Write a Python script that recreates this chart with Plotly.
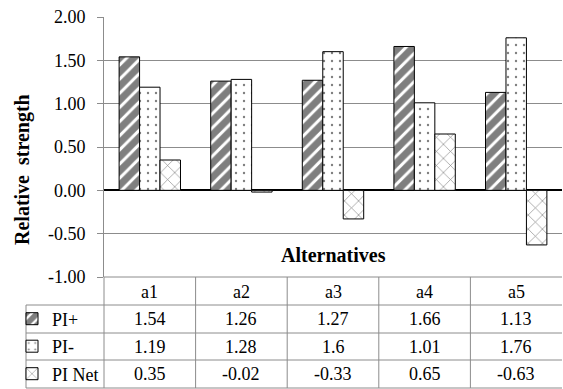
import plotly.graph_objects as go

# ---- data ----
categories = ["a1", "a2", "a3", "a4", "a5"]
pi_plus = [1.54, 1.26, 1.27, 1.66, 1.13]
pi_minus = [1.19, 1.28, 1.6, 1.01, 1.76]
pi_net = [0.35, -0.02, -0.33, 0.65, -0.63]
series_names = ["PI+", "PI-", "PI Net"]
y_ticks = [-1.0, -0.5, 0.0, 0.5, 1.0, 1.5, 2.0]
y_tick_labels = [f"{v:.2f}" for v in y_ticks]

# ---- geometry (pixels) ----
W, H = 563, 389
ML, MR, MT, MB = 104, 1, 17, 112
PW = W - ML - MR
PH = H - MT - MB
FONT = "Liberation Serif, Times New Roman, serif"
GRID = "#8c8c8c"


def py(Y):
    return (H - MB - Y) / PH


def px(X):
    return (X - ML) / PW


row_lines = [305, 333, 360, 388]
row_centers = [291.5, 319, 346.5, 374]
table_left = 26

series_values = [pi_plus, pi_minus, pi_net]
patterns = [
    dict(shape="/", size=10, solidity=0.7, fgcolor="black", bgcolor="white"),
    dict(shape=".", size=8, solidity=0.07, fgcolor="#000", bgcolor="white"),
    dict(shape="x", size=10, solidity=0.12, fgcolor="#000", bgcolor="white"),
]
legend_ids = ["legend", "legend2", "legend3"]

fig = go.Figure()
for name, vals, pat, lid in zip(series_names, series_values, patterns, legend_ids):
    fig.add_trace(go.Bar(
        x=categories, y=vals, name=name,
        marker=dict(color="white", pattern=pat, line=dict(color="black", width=1)),
        legend=lid, showlegend=True,
    ))

shapes = []
line_style = dict(color=GRID, width=1)
for Y in row_lines:
    shapes.append(dict(type="line", xref="paper", yref="paper",
                       x0=px(table_left), x1=1, y0=py(Y), y1=py(Y), line=line_style))
shapes.append(dict(type="line", xref="paper", yref="paper",
                   x0=0, x1=1, y0=0, y1=0, line=line_style))
shapes.append(dict(type="line", xref="paper", yref="paper",
                   x0=px(table_left), x1=px(table_left), y0=py(row_lines[0]), y1=py(row_lines[-1]),
                   line=line_style))
shapes.append(dict(type="line", xref="paper", yref="paper",
                   x0=0, x1=0, y0=0, y1=py(row_lines[-1]), line=line_style))
for i in range(len(categories) - 1):
    shapes.append(dict(type="line", xref="x", yref="paper",
                       x0=i + 0.5, x1=i + 0.5, y0=0, y1=py(row_lines[-1]), line=line_style))

annotations = []
tfont = dict(family=FONT, size=18, color="black")
for c in categories:
    annotations.append(dict(x=c, xref="x", y=py(row_centers[0]), yref="paper",
                            text=c, showarrow=False, font=tfont, yanchor="middle"))
for r, vals in enumerate(series_values):
    yc = py(row_centers[r + 1])
    for c, v in zip(categories, vals):
        annotations.append(dict(x=c, xref="x", y=yc, yref="paper", text=str(v),
                                showarrow=False, font=tfont, yanchor="middle"))

title_font = dict(family=FONT, size=20, color="black")
annotations.append(dict(x=0.5, xref="paper", y=py(255), yref="paper", text="<b>Alternatives</b>",
                        showarrow=False, font=title_font, yanchor="middle"))
annotations.append(dict(x=px(22), xref="paper", y=py(170), yref="paper",
                        text="<b>Relative  strength</b>", textangle=-90,
                        showarrow=False, font=title_font,
                        xanchor="center", yanchor="middle"))

legend_common = dict(xref="paper", yref="paper", xanchor="left", yanchor="middle",
                     bgcolor="rgba(0,0,0,0)", borderwidth=0, itemwidth=30,
                     font=dict(family=FONT, size=18, color="black"),
                     itemclick=False, itemdoubleclick=False)
layout_legends = {}
for r, lid in enumerate(legend_ids):
    layout_legends[lid] = dict(legend_common, x=px(12), y=py(row_centers[r + 1]))

fig.update_layout(
    width=W, height=H,
    margin=dict(l=ML, r=MR, t=MT, b=MB, autoexpand=False),
    paper_bgcolor="white", plot_bgcolor="white",
    barmode="group", bargap=0.33, bargroupgap=0,
    font=dict(family=FONT, size=18, color="black"),
    xaxis=dict(type="category", range=[-0.5, 4.5], showticklabels=False, showgrid=False,
               showline=False, zeroline=False, ticks=""),
    yaxis=dict(range=[-1, 2], tickvals=y_ticks, ticktext=y_tick_labels, showgrid=True,
               gridcolor=GRID, gridwidth=1, showline=True, linecolor=GRID, linewidth=1,
               ticks="outside", ticklen=6, tickcolor=GRID,
               tickfont=dict(family=FONT, size=18, color="black"),
               zeroline=True, zerolinecolor="black", zerolinewidth=2, ticklabelstandoff=8),
    shapes=shapes, annotations=annotations,
    **layout_legends,
)

fig.write_html("out.html", config={"displayModeBar": False},
               post_script="document.body.style.margin='0';document.body.style.overflow='hidden';")
